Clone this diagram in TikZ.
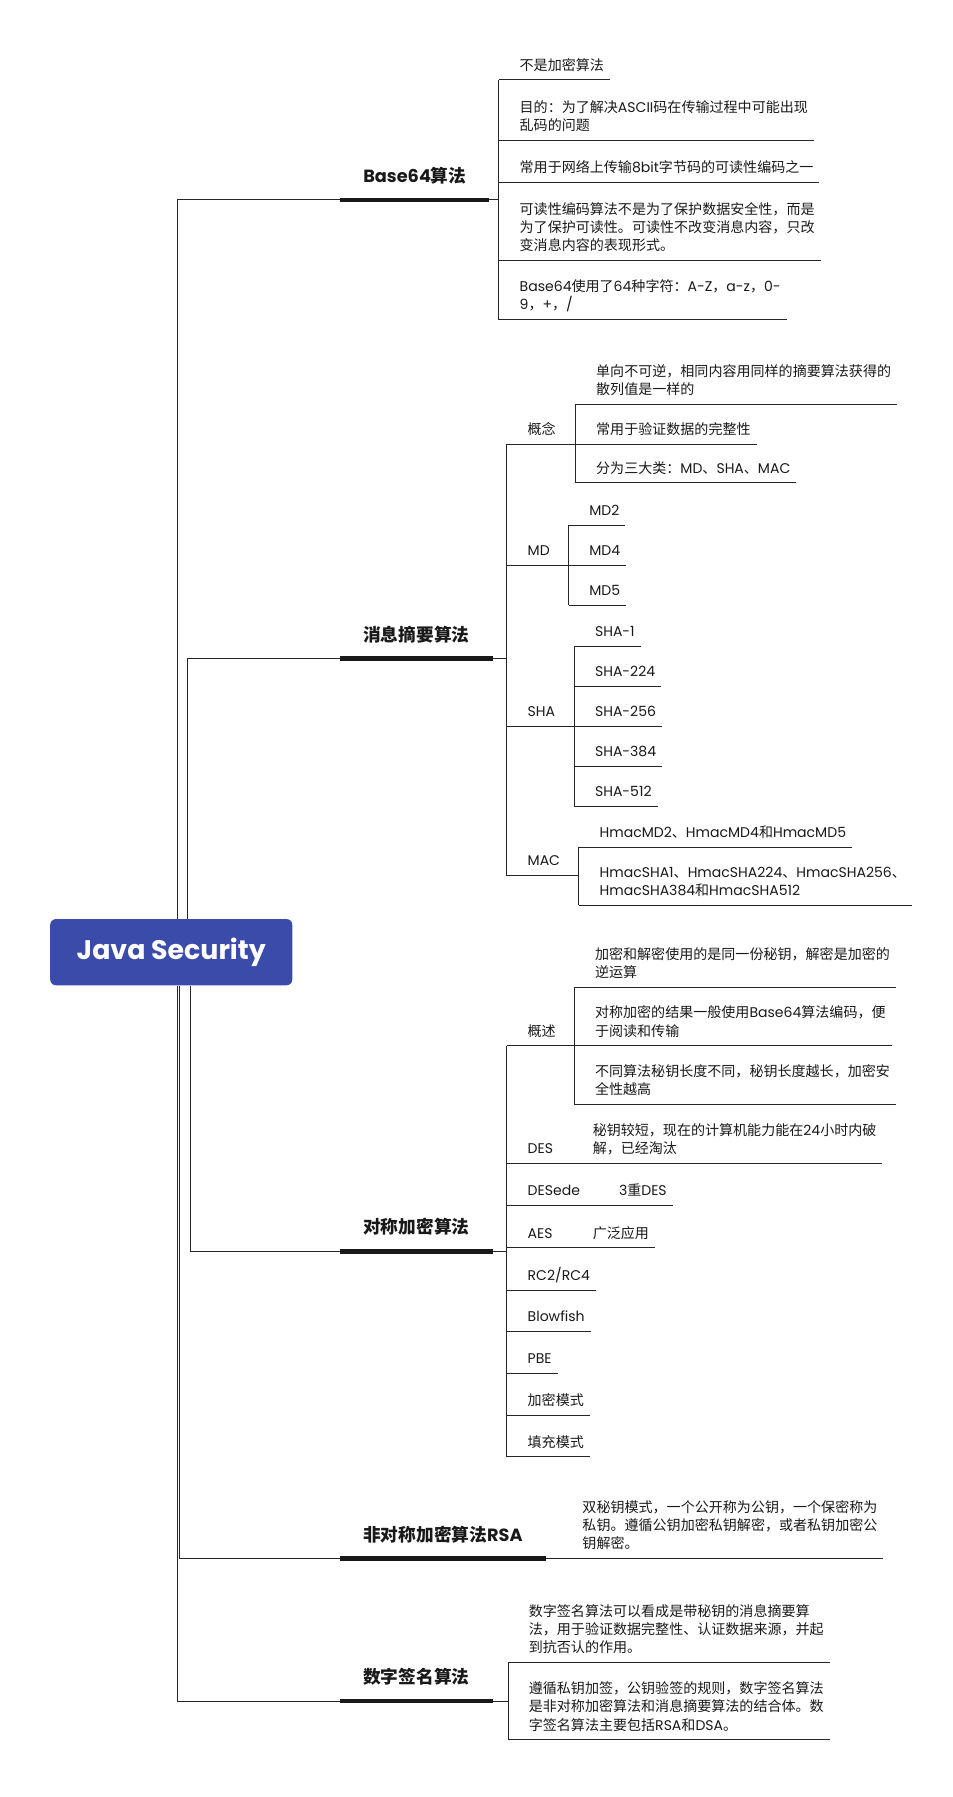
\documentclass[tikz,border=0pt]{standalone}
\usepackage{fontspec}
\setmainfont{Poppins}
\newfontfamily\cjkfont{Noto Sans CJK SC}
\XeTeXinterchartokenstate=1
\newXeTeXintercharclass\cjkclass
\newcount\cjkcode
\cjkcode="3000
\loop\XeTeXcharclass\cjkcode=\cjkclass\advance\cjkcode by 1 \ifnum\cjkcode<"3040 \repeat
\cjkcode="4E00
\loop\XeTeXcharclass\cjkcode=\cjkclass\advance\cjkcode by 1 \ifnum\cjkcode<"A000 \repeat
\cjkcode="FF00
\loop\XeTeXcharclass\cjkcode=\cjkclass\advance\cjkcode by 1 \ifnum\cjkcode<"FFF0 \repeat
\XeTeXinterchartoks 0 \cjkclass = {\begingroup\cjkfont}
\XeTeXinterchartoks 4095 \cjkclass = {\begingroup\cjkfont}
\XeTeXinterchartoks \cjkclass 0 = {\endgroup}
\XeTeXinterchartoks \cjkclass 4095 = {\endgroup}
\definecolor{rootblue}{HTML}{3A4BAA}

\begin{document}
\begin{tikzpicture}[x=1pt,y=-1pt,
  leaf/.style={anchor=south west,inner xsep=5pt,inner ysep=8.3pt,text depth=0pt,align=left,
    font=\fontsize{12.3}{16}\selectfont,text=black!90},
  head/.style={anchor=south west,inner xsep=20pt,inner ysep=15pt,text depth=0pt,
    font=\bfseries\fontsize{15.5}{18}\selectfont,text=black!90},
  thin/.style={draw=black!85,line width=0.8pt},
  bar/.style={draw=black!90,line width=4pt}]
\useasboundingbox (0,0) rectangle (834,1574);

\node[fill=rootblue,rounded corners=5pt,minimum width=212pt,minimum height=58pt,inner sep=0pt,
  text=white,font=\bfseries\fontsize{23.5}{28}\selectfont] (root) at (150,834) {Java Security};

% Base64
\node[head] (base) at (298,175) {Base64算法};
\coordinate (vb) at (437,175);
\node[leaf] (b1) at (450,70) {不是加密算法};
\node[leaf] (b2) at (450,123) {目的：为了解决ASCII码在传输过程中可能出现\\乱码的问题};
\node[leaf] (b3) at (450,160) {常用于网络上传输8bit字节码的可读性编码之一};
\node[leaf] (b4) at (450,228) {可读性编码算法不是为了保护数据安全性，而是\\为了保护可读性。可读性不改变消息内容，只改\\变消息内容的表现形式。};
\node[leaf] (b5) at (450,280) {Base64使用了64种字符：A-Z，a-z，0-\\9，+，/};
\draw[bar] (base.south west) -- (base.south east);
\draw[thin] (base.south east) -- (vb);
\draw[thin] (b1.south -| vb) -- (b5.south -| vb);
\foreach \i in {1,...,5} \draw[thin] (b\i.south -| vb) -- (b\i.south east);

% digest
\node[head] (digest) at (298,577) {消息摘要算法};
\coordinate (vd) at (444,577);
\node[leaf] (concept) at (457,389) {概念};
\coordinate (vc) at (504,389);
\node[leaf] (c1) at (517,354) {单向不可逆，相同内容用同样的摘要算法获得的\\散列值是一样的};
\node[leaf] (c2) at (517,389) {常用于验证数据的完整性};
\node[leaf] (c3) at (517,423) {分为三大类：MD、SHA、MAC};
\node[leaf] (md) at (457,495) {MD};
\coordinate (vm) at (498,495);
\node[leaf] (md1) at (511,460) {MD2};
\node[leaf] (md2) at (511,495) {MD4};
\node[leaf] (md3) at (511,530) {MD5};
\node[leaf] (sha) at (457,636) {SHA};
\coordinate (vs) at (503,636);
\node[leaf] (sha1) at (516,566) {SHA-1};
\node[leaf] (sha2) at (516,601) {SHA-224};
\node[leaf] (sha3) at (516,636) {SHA-256};
\node[leaf] (sha4) at (516,671) {SHA-384};
\node[leaf] (sha5) at (516,706) {SHA-512};
\node[leaf] (mac) at (457,767) {MAC};
\coordinate (va) at (507,767);
\node[leaf] (mac1) at (520,742) {HmacMD2、HmacMD4和HmacMD5};
\node[leaf] (mac2) at (520,793) {HmacSHA1、HmacSHA224、HmacSHA256、\\HmacSHA384和HmacSHA512};
\draw[bar] (digest.south west) -- (digest.south east);
\draw[thin] (digest.south east) -- (vd);
\draw[thin] (concept.south -| vd) -- (mac.south -| vd);
\draw[thin] (concept.south -| vd) -- (vc);
\draw[thin] (md.south -| vd) -- (vm);
\draw[thin] (sha.south -| vd) -- (vs);
\draw[thin] (mac.south -| vd) -- (va);
\draw[thin] (c1.south -| vc) -- (c3.south -| vc);
\foreach \i in {1,...,3} \draw[thin] (c\i.south -| vc) -- (c\i.south east);
\draw[thin] (md1.south -| vm) -- (md3.south -| vm);
\foreach \i in {1,...,3} \draw[thin] (md\i.south -| vm) -- (md\i.south east);
\draw[thin] (sha1.south -| vs) -- (sha5.south -| vs);
\foreach \i in {1,...,5} \draw[thin] (sha\i.south -| vs) -- (sha\i.south east);
\draw[thin] (mac1.south -| va) -- (mac2.south -| va);
\foreach \i in {1,2} \draw[thin] (mac\i.south -| va) -- (mac\i.south east);

% symmetric
\node[head] (sym) at (298,1096) {对称加密算法};
\coordinate (vy) at (444,1096);
\node[leaf] (over) at (457,916) {概述};
\coordinate (vo) at (503,916);
\node[leaf] (o1) at (516,865) {加密和解密使用的是同一份秘钥，解密是加密的\\逆运算};
\node[leaf] (o2) at (516,916) {对称加密的结果一般使用Base64算法编码，便\\于阅读和传输};
\node[leaf] (o3) at (516,967) {不同算法秘钥长度不同，秘钥长度越长，加密安\\全性越高};
\node[leaf] (des) at (457,1019) {DES};
\node[leaf] (des1) at (514,1019) {秘钥较短，现在的计算机能力能在24小时内破\\解，已经淘汰};
\node[leaf] (ede) at (457,1056) {DESede};
\node[leaf] (ede1) at (537,1056) {3重DES};
\node[leaf] (aes) at (457,1093) {AES};
\node[leaf] (aes1) at (514,1093) {广泛应用};
\node[leaf] (rc) at (457,1130) {RC2/RC4};
\node[leaf] (fish) at (457,1166) {Blowfish};
\node[leaf] (pbe) at (457,1203) {PBE};
\node[leaf] (mode) at (457,1240) {加密模式};
\node[leaf] (pad) at (457,1276) {填充模式};
\draw[bar] (sym.south west) -- (sym.south east);
\draw[thin] (sym.south east) -- (vy);
\draw[thin] (over.south -| vy) -- (pad.south -| vy);
\draw[thin] (over.south -| vy) -- (vo);
\draw[thin] (o1.south -| vo) -- (o3.south -| vo);
\foreach \i in {1,...,3} \draw[thin] (o\i.south -| vo) -- (o\i.south east);
\draw[thin] (des.south -| vy) -- (des1.south east);
\draw[thin] (ede.south -| vy) -- (ede1.south east);
\draw[thin] (aes.south -| vy) -- (aes1.south east);
\foreach \n in {rc,fish,pbe,mode,pad} \draw[thin] (\n.south -| vy) -- (\n.south east);

% RSA
\node[head] (rsa) at (298,1365) {非对称加密算法RSA};
\node[leaf] (rsa1) at (505,1365) {双秘钥模式，一个公开称为公钥，一个保密称为\\私钥。遵循公钥加密私钥解密，或者私钥加密公\\钥解密。};
\draw[bar] (rsa.south west) -- (rsa.south east);
\draw[thin] (rsa.south east) -- (rsa1.south east);

% signature
\node[head] (sign) at (298,1490) {数字签名算法};
\coordinate (vg) at (445,1490);
\node[leaf] (s1) at (458,1456) {数字签名算法可以看成是带秘钥的消息摘要算\\法，用于验证数据完整性、认证数据来源，并起\\到抗否认的作用。};
\node[leaf] (s2) at (458,1524) {遵循私钥加签，公钥验签的规则，数字签名算法\\是非对称加密算法和消息摘要算法的结合体。数\\字签名算法主要包括RSA和DSA。};
\draw[bar] (sign.south west) -- (sign.south east);
\draw[thin] (sign.south east) -- (vg);
\draw[thin] (s1.south -| vg) -- (s2.south -| vg);
\foreach \i in {1,2} \draw[thin] (s\i.south -| vg) -- (s\i.south east);

% spines
\draw[thin] ([xshift=5pt]root.north) |- (base.south west);
\draw[thin] ([xshift=14.5pt]root.north) |- (digest.south west);
\draw[thin] ([xshift=16.5pt]root.south) |- (sym.south west);
\draw[thin] ([xshift=7pt]root.south) |- (rsa.south west);
\draw[thin] ([xshift=5pt]root.south) |- (sign.south west);
\end{tikzpicture}
\end{document}
